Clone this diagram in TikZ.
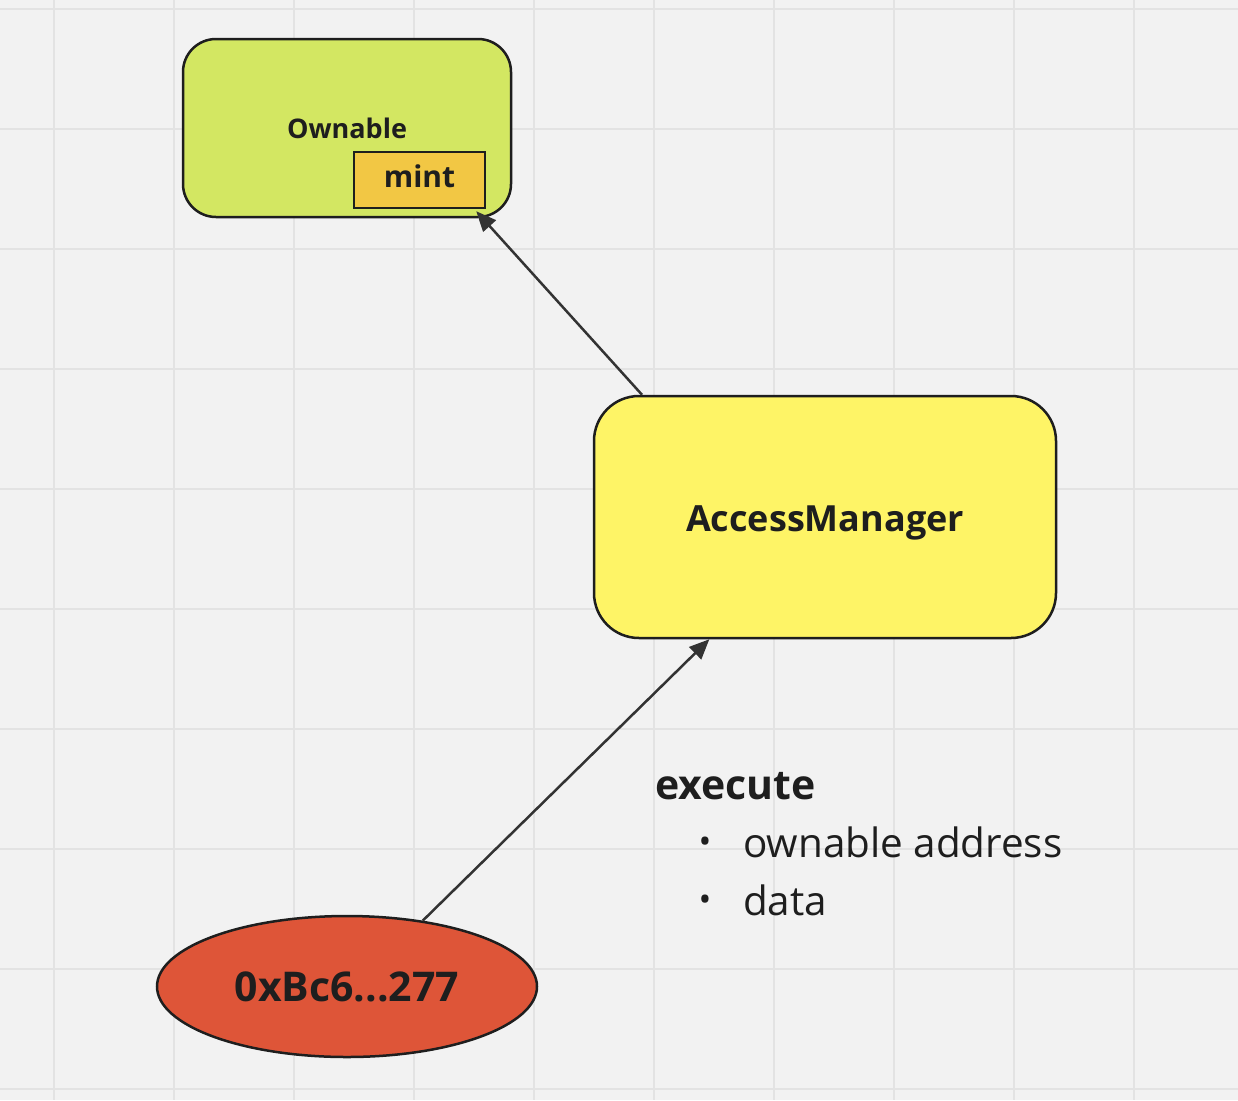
\documentclass[tikz,border=0pt]{standalone}
\usepackage{fontspec}
\setmainfont{Open Sans}
\usetikzlibrary{shapes.geometric,arrows.meta,calc}
\definecolor{bgc}{HTML}{F2F2F2}
\definecolor{gridc}{HTML}{E3E3E3}
\definecolor{ownc}{HTML}{D3E762}
\definecolor{mintc}{HTML}{F2C744}
\definecolor{amc}{HTML}{FEF466}
\definecolor{addrc}{HTML}{DE5538}
\definecolor{ink}{HTML}{1E1E1E}
\definecolor{arrc}{HTML}{333333}
\begin{document}
\begin{tikzpicture}[x=1pt,y=-1pt,
  shapebox/.style={draw=ink, line width=2.5pt, inner sep=0pt, text=ink},
  conn/.style={draw=arrc, line width=2.5pt, -{Triangle[length=20pt,width=17pt]}},
  plaintext/.style={inner sep=0pt, text=ink}]
\fill[bgc] (0,0) rectangle (1238,1100);
\useasboundingbox (0,0) rectangle (1238,1100);
\foreach \x in {54,174,...,1134} \draw[gridc, line width=2pt] (\x,0) -- (\x,1100);
\foreach \y in {9,129,...,1089} \draw[gridc, line width=2pt] (0,\y) -- (1238,\y);

\node[shapebox, fill=ownc, rectangle, rounded corners=33pt, minimum width=328pt, minimum height=178pt,
  font=\fontsize{27}{32}\selectfont\bfseries] (own) at (347,128) {Ownable};
\node[shapebox, fill=mintc, rectangle, minimum width=131pt, minimum height=56pt, text depth=8pt,
  font=\fontsize{30}{36}\selectfont\bfseries] (mint) at (419.5,180) {mint};

\node[shapebox, fill=amc, rectangle, rounded corners=45pt, minimum width=462pt, minimum height=242pt,
  text height=37pt, text depth=9pt,
  font=\fontsize{36}{43}\selectfont\bfseries] (am) at (825,517) {AccessManager};

\node[shapebox, fill=addrc, ellipse, minimum width=380pt, minimum height=141pt,
  font=\fontsize{41}{49}\selectfont\bfseries] (addr) at (347,986.5) {0xBc6...277};

\draw[conn] ($(am.north west)!0.106!(am.north east)$) -- ($(mint.south east)+(-10,2)$);
\draw[conn] (addr.41) -- ($(am.south west)!0.251!(am.south east)$);

\node[plaintext, anchor=base west, font=\fontsize{41}{49}\selectfont\bfseries] (exe) at (655,799) {execute};
\node[plaintext, anchor=center, font=\fontsize{34}{40}\selectfont] (b1) at (705,845) {•};
\node[plaintext, anchor=center, font=\fontsize{34}{40}\selectfont] (b2) at (705,903) {•};
\node[plaintext, anchor=base west, font=\fontsize{40.4}{48}\selectfont] (it1) at (743,857) {ownable address};
\node[plaintext, anchor=base west, font=\fontsize{40.4}{48}\selectfont] (it2) at (743,915) {data};
\end{tikzpicture}
\end{document}
